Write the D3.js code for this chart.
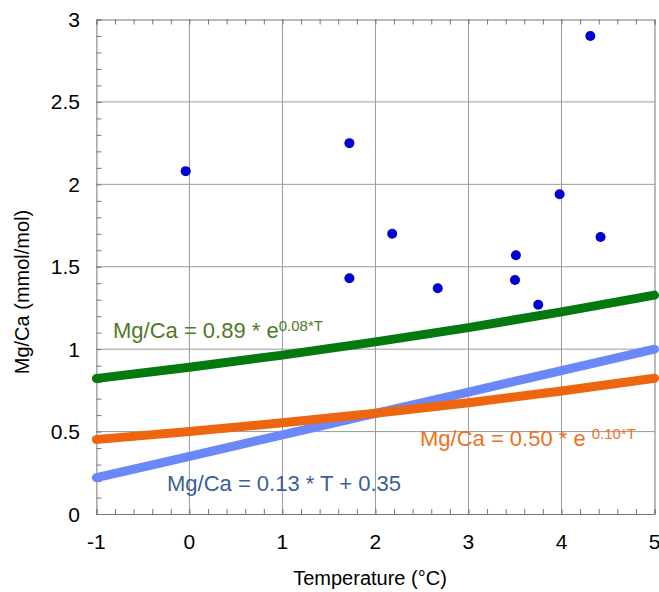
<!DOCTYPE html>
<html>
<head>
<meta charset="utf-8">
<script src="https://cdn.jsdelivr.net/npm/d3@7"></script>
<style>
  body { margin: 0; background: #fff; }
  text { font-family: "Liberation Sans", Arial, sans-serif; }
</style>
</head>
<body>
<div class="chart"></div>
<script>
// measured samples (temperature, Mg/Ca)
var sampleT  = [-0.04, 1.72, 2.18, 1.72, 2.67, 3.51, 3.50, 3.75, 3.98, 4.42, 4.31];
var sampleMg = [2.08, 2.25, 1.70, 1.43, 1.37, 1.57, 1.42, 1.27, 1.94, 1.68, 2.90];

// calibration curves read at each whole degree
var curveT      = [-1, 0, 1, 2, 3, 4, 5];
var greenCurve  = [0.822, 0.890, 0.964, 1.044, 1.131, 1.226, 1.328];
var orangeCurve = [0.452, 0.500, 0.553, 0.611, 0.675, 0.746, 0.824];
var blueCurve   = [0.22, 0.35, 0.48, 0.61, 0.74, 0.87, 1.00];

var xTicks = [-1, 0, 1, 2, 3, 4, 5];
var yTicks = [0, 0.5, 1, 1.5, 2, 2.5, 3];

var w = 659, h = 592;
var mLeft = 96.4, mRight = 654.5, mTop = 19.5, mBottom = 514;

var svg = d3.select(".chart").append("svg")
  .attr("width", w)
  .attr("height", h);

var x = d3.scaleLinear().domain([-1, 5]).range([mLeft, mRight]);
var y = d3.scaleLinear().domain([0, 3]).range([mBottom, mTop]);

// grid
svg.append("g").selectAll("line")
  .data(xTicks.slice(1, -1))
  .enter().append("line")
  .attr("x1", function(d) { return x(d); })
  .attr("x2", function(d) { return x(d); })
  .attr("y1", mTop).attr("y2", mBottom)
  .attr("stroke", "#9a9a9a").attr("stroke-width", 1);

svg.append("g").selectAll("line")
  .data(yTicks.slice(1, -1))
  .enter().append("line")
  .attr("x1", mLeft).attr("x2", mRight)
  .attr("y1", function(d) { return y(d); })
  .attr("y2", function(d) { return y(d); })
  .attr("stroke", "#9a9a9a").attr("stroke-width", 1);

// frame + inward ticks
function grey(g) { g.selectAll("line,path").attr("stroke", "#777"); }
svg.append("g")
  .attr("transform", "translate(0," + mBottom + ")")
  .call(d3.axisBottom(x).ticks(30).tickSize(-5).tickFormat(""))
  .call(grey);
svg.append("g")
  .attr("transform", "translate(0," + mTop + ")")
  .call(d3.axisTop(x).ticks(30).tickSize(-5).tickFormat(""))
  .call(grey);
svg.append("g")
  .attr("transform", "translate(" + mLeft + ",0)")
  .call(d3.axisLeft(y).ticks(30).tickSize(-5).tickFormat(""))
  .call(grey);
svg.append("g")
  .attr("transform", "translate(" + mRight + ",0)")
  .call(d3.axisRight(y).tickValues([]).tickSizeOuter(0))
  .call(grey);

// tick labels
svg.append("g").selectAll("text")
  .data(xTicks)
  .enter().append("text")
  .attr("x", function(d) { return x(d); })
  .attr("y", 549)
  .attr("text-anchor", "middle")
  .attr("font-size", 21)
  .text(function(d) { return String(d); });

svg.append("g").selectAll("text")
  .data(yTicks)
  .enter().append("text")
  .attr("x", 80)
  .attr("y", function(d) { return y(d) + 7.5; })
  .attr("text-anchor", "end")
  .attr("font-size", 21)
  .text(function(d) { return String(d); });

// axis titles
svg.append("text")
  .attr("x", 370).attr("y", 585)
  .attr("text-anchor", "middle")
  .attr("font-size", 20)
  .text("Temperature (°C)");

svg.append("text")
  .attr("transform", "translate(29,292) rotate(-90)")
  .attr("text-anchor", "middle")
  .attr("font-size", 20)
  .text("Mg/Ca (mmol/mol)");

// curves
var line = d3.line()
  .x(function(d) { return x(d[0]); })
  .y(function(d) { return y(d[1]); })
  .curve(d3.curveMonotoneX);

function drawCurve(vals, color) {
  svg.append("path")
    .datum(d3.zip(curveT, vals))
    .attr("d", line)
    .attr("fill", "none")
    .attr("stroke", color)
    .attr("stroke-width", 9)
    .attr("stroke-linecap", "round");
}
drawCurve(greenCurve, "#04790f");
drawCurve(blueCurve, "#6a88f7");
drawCurve(orangeCurve, "#ee650f");

// samples
svg.append("g").selectAll("circle")
  .data(d3.zip(sampleT, sampleMg))
  .enter().append("circle")
  .attr("cx", function(d) { return x(d[0]); })
  .attr("cy", function(d) { return y(d[1]); })
  .attr("r", 5)
  .attr("fill", "#0000d2");

// equation labels
function label(xp, yp, main, sup, color, gap) {
  var t = svg.append("text")
    .attr("x", xp).attr("y", yp)
    .attr("font-size", 22)
    .attr("fill", color);
  t.append("tspan").text(main);
  if (sup) {
    t.append("tspan")
      .attr("dx", gap)
      .attr("dy", -7)
      .attr("font-size", 15)
      .text(sup);
  }
}
label(113, 338, "Mg/Ca = 0.89 * e", "0.08*T", "#4d7a26", 0);
label(420, 446, "Mg/Ca = 0.50 * e", "0.10*T", "#ee701e", 6);
label(167, 491, "Mg/Ca = 0.13 * T + 0.35", null, "#3a5f98", 0);
</script>
</body>
</html>
